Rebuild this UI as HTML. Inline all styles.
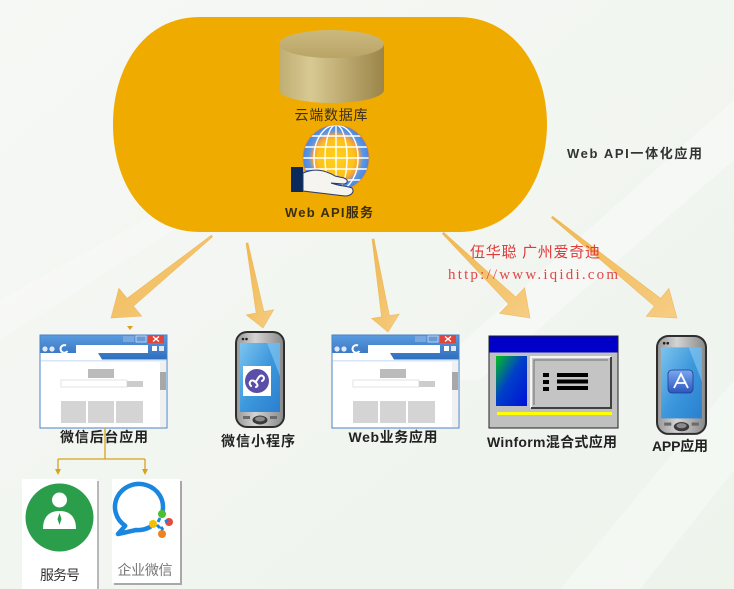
<!DOCTYPE html>
<html><head><meta charset="utf-8"><style>
html,body{margin:0;padding:0;background:#f2f5f0;}
svg{display:block;}
</style></head><body>
<svg width="734" height="589" viewBox="0 0 734 589" xmlns="http://www.w3.org/2000/svg" font-family="'Liberation Sans','Noto Sans CJK SC',sans-serif">
<defs>
  <linearGradient id="bg" x1="0" y1="0" x2="1" y2="1">
    <stop offset="0" stop-color="#f6f8f5"/><stop offset="1" stop-color="#eef3ec"/>
  </linearGradient>
  <linearGradient id="cylBody" x1="0" y1="0" x2="1" y2="0">
    <stop offset="0" stop-color="#bfae72"/><stop offset="0.3" stop-color="#d8c993"/><stop offset="1" stop-color="#9b8548"/>
  </linearGradient>
  <linearGradient id="cylTop" x1="0" y1="0" x2="0" y2="1">
    <stop offset="0" stop-color="#cbb97e"/><stop offset="1" stop-color="#b9a466"/>
  </linearGradient>
  <radialGradient id="globeG" cx="0.5" cy="0.5" r="0.5">
    <stop offset="0" stop-color="#ffd21a"/><stop offset="0.55" stop-color="#ffc21a"/><stop offset="0.7" stop-color="#f0a040"/><stop offset="0.82" stop-color="#5b97e6"/><stop offset="1" stop-color="#4a86de"/>
  </radialGradient>
  <clipPath id="globeClip"><circle cx="336" cy="158" r="33"/></clipPath>
  <linearGradient id="tbar" x1="0" y1="0" x2="0" y2="1">
    <stop offset="0" stop-color="#5a9ade"/><stop offset="1" stop-color="#2f6ebd"/>
  </linearGradient>
  <linearGradient id="phoneBody" x1="0" y1="0" x2="1" y2="0">
    <stop offset="0" stop-color="#9a9a9a"/><stop offset="0.4" stop-color="#d4d4d4"/><stop offset="1" stop-color="#8a8a8a"/>
  </linearGradient>
  <linearGradient id="screenG" x1="0" y1="0" x2="1" y2="1">
    <stop offset="0" stop-color="#7cc4ee"/><stop offset="0.5" stop-color="#3d98dc"/><stop offset="1" stop-color="#2a7fcf"/>
  </linearGradient>
  <linearGradient id="wfPanel" x1="0" y1="0" x2="1" y2="1">
    <stop offset="0" stop-color="#00c020"/><stop offset="0.45" stop-color="#0040c8"/><stop offset="1" stop-color="#0010d8"/>
  </linearGradient>
  <linearGradient id="appIcon" x1="0" y1="0" x2="0" y2="1">
    <stop offset="0" stop-color="#7aa8f0"/><stop offset="1" stop-color="#2a56c0"/>
  </linearGradient>
  <linearGradient id="arrowG" x1="0" y1="0" x2="1" y2="1">
    <stop offset="0" stop-color="#f1b240"/><stop offset="1" stop-color="#f7c978"/>
  </linearGradient>

  <g id="browser">
    <rect x="0" y="0" width="127" height="93" fill="#ffffff" stroke="#4a82c4" stroke-width="1"/>
    <rect x="0.5" y="0.5" width="126" height="24" fill="url(#tbar)"/>
    <rect x="83" y="1" width="11" height="6" fill="#7aa8dc"/>
    <rect x="96" y="1" width="10" height="6" fill="#6a9ad4" stroke="#cfe0f4" stroke-width="0.8"/>
    <rect x="108" y="0" width="16" height="8" fill="#e0443c"/>
    <path d="M113,1.5 L119,6.5 M119,1.5 L113,6.5" stroke="#fff" stroke-width="1.4"/>
    <circle cx="5" cy="14" r="2.6" fill="#dfe8f2"/>
    <circle cx="12" cy="14" r="2.6" fill="#dfe8f2"/>
    <path d="M26,10.5 A3.8,3.8 0 1 0 27.5,16" fill="none" stroke="#ffffff" stroke-width="2"/>
    <rect x="36" y="10" width="72" height="8" fill="#ffffff"/>
    <rect x="112" y="11" width="5" height="5" fill="#ffffff"/>
    <rect x="119" y="11" width="5" height="5" fill="#dfe8f2"/>
    <path d="M0.5,18 L58,18 L62,24.5 L0.5,24.5 Z" fill="#ffffff"/>
    <rect x="1" y="25" width="125" height="1.5" fill="#d6e6f6"/>
    <rect x="120" y="27" width="6" height="65" fill="#f0f0f0"/>
    <rect x="120" y="37" width="6" height="18" fill="#a8a8a8"/>
    <rect x="48" y="34" width="26" height="9" fill="#bbbbbb"/>
    <rect x="21" y="45" width="66" height="7" fill="#ffffff" stroke="#dddddd" stroke-width="0.8"/>
    <rect x="87" y="46" width="16" height="6" fill="#cccccc"/>
    <rect x="21" y="66" width="25" height="22" fill="#d4d4d4"/>
    <rect x="48" y="66" width="26" height="22" fill="#d4d4d4"/>
    <rect x="76" y="66" width="27" height="22" fill="#d4d4d4"/>
  </g>

  <g id="phone">
    <rect x="0" y="0" width="50" height="97" rx="12" fill="#2e2e2e"/>
    <rect x="2" y="2" width="46" height="93" rx="10" fill="url(#phoneBody)"/>
    <circle cx="8" cy="8" r="1.3" fill="#222"/>
    <circle cx="11.5" cy="8" r="1.3" fill="#222"/>
    <rect x="5" y="12" width="40" height="69" fill="url(#screenG)"/>
    <path d="M32,12 L45,12 L45,45 Z" fill="#9ad4f6" opacity="0.5"/>
    <rect x="8" y="85" width="7" height="3" fill="#6a6a6a"/>
    <rect x="35" y="85" width="7" height="3" fill="#6a6a6a"/>
    <ellipse cx="25" cy="89" rx="7.5" ry="4.5" fill="#3a3a3a"/>
    <ellipse cx="25" cy="88" rx="5" ry="2.5" fill="#8a8a8a"/>
  </g>
</defs>

<!-- background -->
<rect x="0" y="0" width="734" height="589" fill="url(#bg)"/>
<polygon points="560,589 734,380 734,470 640,589" fill="#ffffff" opacity="0.35"/>
<polygon points="420,380 734,100 734,160 480,380" fill="#ffffff" opacity="0.3"/>
<polygon points="0,300 180,200 220,200 0,340" fill="#ffffff" opacity="0.25"/>

<!-- stadium -->
<path d="M200,17 L458,17 C515,17 547,70 547,124 C547,180 515,232 458,232 L200,232 C142,232 113,180 113,124 C113,70 142,17 200,17 Z" fill="#f0ab00"/>

<!-- cylinder -->
<path d="M279,44 L279,90 A52.5,13 0 0 0 384,90 L384,44 Z" fill="url(#cylBody)"/>
<ellipse cx="331.5" cy="44" rx="52.5" ry="14" fill="url(#cylTop)"/>
<text x="331" y="120" font-size="14" fill="#3b3020" text-anchor="middle" textLength="73" lengthAdjust="spacing">云端数据库</text>

<!-- globe -->
<circle cx="336" cy="158" r="33" fill="url(#globeG)"/>
<g clip-path="url(#globeClip)" fill="none" stroke="#ffffff" stroke-width="1.4">
  <ellipse cx="336" cy="158" rx="11" ry="33"/>
  <ellipse cx="336" cy="158" rx="22" ry="33"/>
  <line x1="336" y1="125" x2="336" y2="191"/>
  <line x1="300" y1="136" x2="372" y2="136"/>
  <line x1="300" y1="147" x2="372" y2="147"/>
  <line x1="300" y1="158" x2="372" y2="158"/>
  <line x1="300" y1="169" x2="372" y2="169"/>
  <line x1="300" y1="180" x2="372" y2="180"/>
</g>
<circle cx="336" cy="158" r="33" fill="none" stroke="#e08a30" stroke-width="0.8"/>
<!-- hand -->
<rect x="291" y="167" width="12" height="25" fill="#0a2a5c"/>
<path d="M303,173 C315,168 325,170 335,176 L344,178 C349,180 348,184 343,184 L331,183 C339,186 347,186 352,188 C355,192 351,196 345,196 L303,191 Z" fill="#f6f4ee" stroke="#2a3a6a" stroke-width="1"/>
<text x="329" y="217" font-size="13" font-weight="bold" fill="#3b2e10" text-anchor="middle" textLength="88" lengthAdjust="spacing">Web  API服务</text>

<!-- right label -->
<text x="567" y="158" font-size="13" font-weight="bold" fill="#333333" textLength="135" lengthAdjust="spacing">Web  API一体化应用</text>

<!-- arrows -->
<g fill="url(#arrowG)" stroke="#e9a636" stroke-width="0.6" stroke-opacity="0.7" opacity="0.9">
  <polygon points="212.6,236.8 133.5,306.1 141.7,316.1 111,318 118.9,288.3 127.1,298.3 211.4,235.2"/>
  <polygon points="248,242.8 263.9,311.6 273.8,309.7 263,328 246.2,314.9 256.1,313 246,243.2"/>
  <polygon points="374,238.8 389.4,315.6 399.3,314 388,332 371.6,318.4 381.5,316.8 372,239.2"/>
  <polygon points="443.7,232.3 515.6,296.9 524.7,287.6 530,318 499.5,313.4 508.6,304.1 442.3,233.7"/>
  <polygon points="552.6,216.2 660.7,298.4 668.9,288.3 677,318 646.2,316.3 654.4,306.2 551.4,217.8"/>
</g>

<!-- watermark -->
<text x="470" y="257" font-size="15" fill="#e03a3a" textLength="130" lengthAdjust="spacing">伍华聪 广州爱奇迪</text>
<text x="448" y="279" font-size="15" fill="#e04848" font-family="'Liberation Serif',serif" textLength="170" lengthAdjust="spacing">http://www.iqidi.com</text>

<!-- small triangle above browser 1 -->
<polygon points="127,326 133,326 130,330" fill="#d9a21b"/>

<!-- browsers -->
<use href="#browser" x="40" y="335"/>
<use href="#browser" x="332" y="335"/>

<!-- phone 1 -->
<use href="#phone" x="235" y="331"/>
<rect x="243" y="366" width="28" height="30" fill="#ffffff"/>
<circle cx="257" cy="381" r="12" fill="#5a4ea8"/>
<path d="M251,386 C248,383 251,379 254,381 C257,383 257,378 260,376 C263,374 266,379 262,381 M254,381 C257,383 259,386 256,387" fill="none" stroke="#ffffff" stroke-width="2" stroke-linecap="round"/>

<!-- phone 2 -->
<g transform="translate(656,335) scale(1.02,1.03)"><use href="#phone"/></g>
<rect x="668" y="370" width="25" height="23" rx="4" fill="url(#appIcon)" stroke="#1e3f90" stroke-width="0.8"/>
<path d="M674,388 L681,374 L688,388 M677,383 L686,383" fill="none" stroke="#ffffff" stroke-width="1.8"/>

<!-- winform -->
<g transform="translate(489,336)">
  <rect x="0" y="0" width="129" height="92" fill="#c0c0c0" stroke="#222" stroke-width="1"/>
  <rect x="0.5" y="0.5" width="128" height="16" fill="#0000c8"/>
  <rect x="7" y="20" width="31" height="50" fill="url(#wfPanel)"/>
  <rect x="42" y="21" width="80" height="51" fill="#c4c4c4"/>
  <path d="M42,72 L42,21 L122,21" fill="none" stroke="#f4f4f4" stroke-width="2"/>
  <path d="M42,72 L122,72 L122,21" fill="none" stroke="#404040" stroke-width="2"/>
  <path d="M45,69 L45,24 L119,24" fill="none" stroke="#707070" stroke-width="1"/>
  <rect x="54" y="37" width="6" height="4" fill="#000"/>
  <rect x="54" y="44" width="6" height="4" fill="#000"/>
  <rect x="54" y="51" width="6" height="4" fill="#000"/>
  <rect x="68" y="37" width="31" height="4" fill="#000"/>
  <rect x="68" y="43.5" width="31" height="4" fill="#000"/>
  <rect x="68" y="50" width="31" height="4" fill="#000"/>
  <rect x="8" y="76" width="115" height="3" fill="#ffff00"/>
</g>

<!-- labels -->
<g font-size="14" font-weight="bold" fill="#222222" text-anchor="middle">
  <text x="104" y="442" textLength="88" lengthAdjust="spacing">微信后台应用</text>
  <text x="258" y="446" textLength="74" lengthAdjust="spacing">微信小程序</text>
  <text x="393" y="442" textLength="89" lengthAdjust="spacing">Web业务应用</text>
  <text x="552" y="447" textLength="130" lengthAdjust="spacing">Winform混合式应用</text>
  <text x="680" y="451" textLength="56" lengthAdjust="spacing">APP应用</text>
</g>

<!-- tree connectors -->
<g stroke="#d9a21b" stroke-width="1.3" fill="none">
  <path d="M105,428 L105,459"/>
  <path d="M58,459 L145,459"/>
  <path d="M58,459 L58,470"/>
  <path d="M145,459 L145,470"/>
</g>
<polygon points="55,469 61,469 58,475" fill="#d9a21b"/>
<polygon points="142,469 148,469 145,475" fill="#d9a21b"/>

<!-- service box 1 -->
<rect x="24" y="481" width="75" height="110" fill="#b8b8b8"/>
<rect x="22" y="479" width="75" height="110" fill="#ffffff"/>
<circle cx="59.5" cy="517.5" r="34" fill="#2b9e4c"/>
<circle cx="59.5" cy="500" r="7.5" fill="#ffffff"/>
<path d="M43,529 C43,516 50,511 59.5,511 C69,511 76,516 76,529 Z" fill="#ffffff"/>
<path d="M59.5,513 L61.5,519 L59.5,525 L57.5,519 Z" fill="#2b9e4c"/>
<text x="60" y="580" font-size="14" fill="#333333" text-anchor="middle" textLength="40" lengthAdjust="spacing">服务号</text>

<!-- service box 2 -->
<rect x="114" y="481" width="68" height="104" fill="#a8a8a8"/>
<rect x="112" y="479" width="68" height="104" fill="#ffffff"/>
<path d="M162.6,511 A24,23 0 1 0 125.2,525.8 L118,534 L136,530 A24,23 0 0 0 150,527" fill="none" stroke="#1a86e0" stroke-width="4.5" stroke-linejoin="round" stroke-linecap="round"/>
<circle cx="162" cy="514" r="4" fill="#4cbf2c"/>
<circle cx="153" cy="524" r="4" fill="#f2c200"/>
<circle cx="169" cy="522" r="4" fill="#e84a3a"/>
<circle cx="162" cy="534" r="4" fill="#f08020"/>
<path d="M160,518 L158,522 M157,525 L160,528 M165,522 L168,520 M163,530 L161,527" stroke="#1a86e0" stroke-width="3"/>
<text x="145" y="575" font-size="14" fill="#777777" text-anchor="middle" textLength="55" lengthAdjust="spacing">企业微信</text>
</svg>
</body></html>
